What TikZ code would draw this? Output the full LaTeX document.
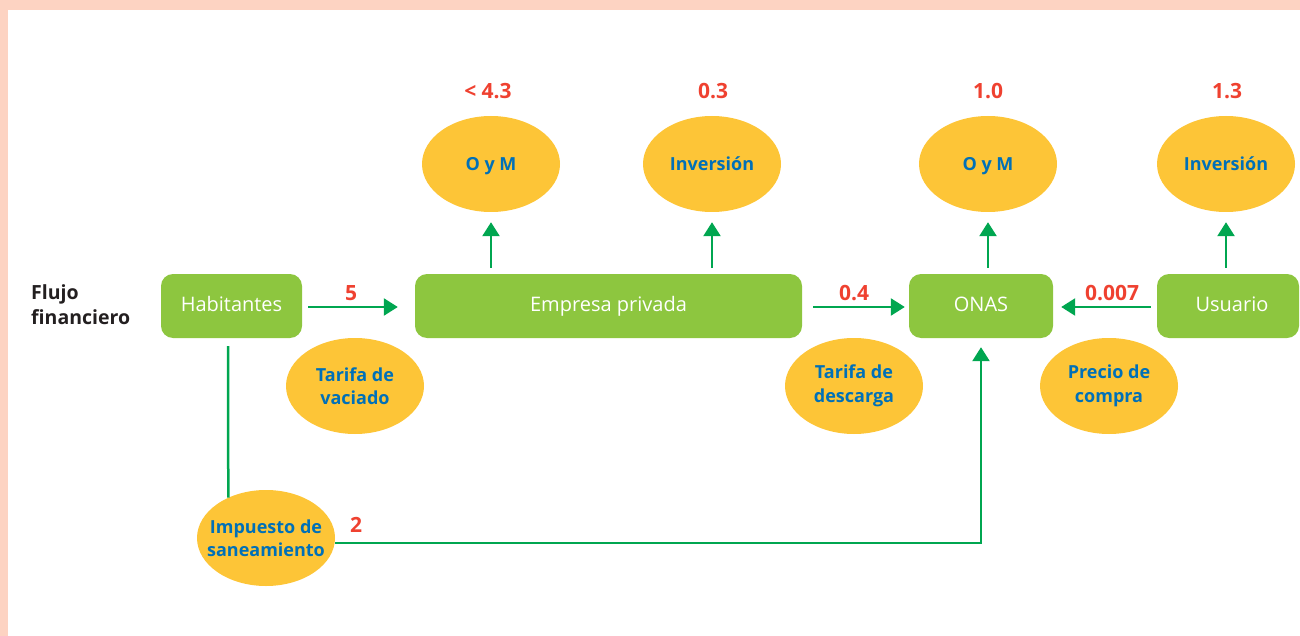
\documentclass[tikz,border=0pt]{standalone}
\usepackage{fontspec}
\setmainfont{Open Sans}
\usetikzlibrary{arrows.meta,shapes.geometric}

\definecolor{peach}{HTML}{FDD3C2}
\definecolor{boxgreen}{HTML}{8DC63F}
\definecolor{ovalyellow}{HTML}{FDC537}
\definecolor{linegreen}{HTML}{00A650}
\definecolor{numred}{HTML}{EF4130}
\definecolor{labelblue}{HTML}{0070B8}
\definecolor{darktext}{HTML}{231F20}

\tikzset{
  box/.style={rectangle, fill=boxgreen, rounded corners=12pt, minimum height=64pt,
    inner sep=0pt, text depth=4pt, text=white, font=\fontsize{20}{22}\selectfont},
  oval/.style={ellipse, fill=ovalyellow, minimum width=138pt, minimum height=96pt,
    inner ysep=0pt, inner xsep=-16pt, text=labelblue, align=center,
    font=\bfseries\fontsize{18}{23.5}\selectfont},
  num/.style={text=numred, inner sep=0pt, font=\bfseries\fontsize{21}{23}\selectfont},
  link/.style={draw=linegreen, line width=2.5pt},
  flow/.style={link, -{Triangle[length=14pt,width=17pt]}},
}

\begin{document}
\begin{tikzpicture}[x=1pt,y=-1pt]
  \useasboundingbox (0,0) rectangle (1300,636);
  % frame strips along the top and left edges
  \fill[peach] (0,0) rectangle (1300,10);
  \fill[peach] (0,0) rectangle (8,636);

  % row title
  \node[anchor=north west, align=left, inner sep=0pt, text=darktext,
        font=\bfseries\fontsize{19.5}{25}\selectfont] (title) at (31,284)
        {Flujo\\financiero};

  % actors
  \node[box, minimum width=141pt] (hab) at (231.5,306) {Habitantes};
  \node[box, minimum width=387pt] (emp) at (608.5,306) {Empresa privada};
  \node[box, minimum width=144pt] (onas) at (981,306) {ONAS};
  \node[box, minimum width=142pt] (usu) at (1228,306) {\hspace{8pt}Usuario};

  % cost items
  \node[oval, text depth=0pt] (oym1) at (491,164) {O y M};
  \node[oval] (inv1) at (712,164) {Inversión};
  \node[oval, text depth=0pt] (oym2) at (988,164) {O y M};
  \node[oval] (inv2) at (1226,164) {Inversión};

  % payment instruments
  \node[oval] (tvac) at (355,386) {Tarifa de\\vaciado};
  \node[oval] (tdes) at (854,386) {Tarifa de\\descarga};
  \node[oval] (pcom) at (1109,386) {Precio de\\compra};
  \node[oval] (imp)  at (266,538) {Impuesto de\\saneamiento};

  % amounts
  \node[num] (n43)  at (488,91)   {< 4.3};
  \node[num] (n03)  at (713,91)   {0.3};
  \node[num] (n10)  at (988,91)   {1.0};
  \node[num] (n13)  at (1227,91)  {1.3};
  \node[num] (n5)   at (351,293)  {5};
  \node[num] (n04)  at (854,293)  {0.4};
  \node[num] (n007) at (1112,293) {0.007};
  \node[num] (n2)   at (356,525)  {2};

  % horizontal flows
  \draw[flow, shorten <=6pt, shorten >=17pt] ([yshift=-1pt]hab.east) -- ([yshift=-1pt]emp.west);
  \draw[flow, shorten <=11pt, shorten >=4pt] ([yshift=-1pt]emp.east) -- ([yshift=-1pt]onas.west);
  \draw[flow, shorten <=6pt, shorten >=8pt] ([yshift=-1pt]usu.west) -- ([yshift=-1pt]onas.east);

  % flows up to the cost items
  \draw[flow, shorten <=6pt, shorten >=10pt] (oym1.south |- emp.north) -- (oym1.south);
  \draw[flow, shorten <=6pt, shorten >=10pt] (inv1.south |- emp.north) -- (inv1.south);
  \draw[flow, shorten <=6pt, shorten >=10pt] (oym2.south |- onas.north) -- (oym2.south);
  \draw[flow, shorten <=6pt, shorten >=10pt] (inv2.south |- usu.north) -- (inv2.south);

  % tax paid by the inhabitants, passed on to ONAS
  \draw[link] ([xshift=-3.5pt,yshift=-8pt]hab.south) -- (imp.133.5);
  \draw[flow, shorten >=9pt] ([yshift=-5pt]imp.east) -| (onas.south);
\end{tikzpicture}
\end{document}
